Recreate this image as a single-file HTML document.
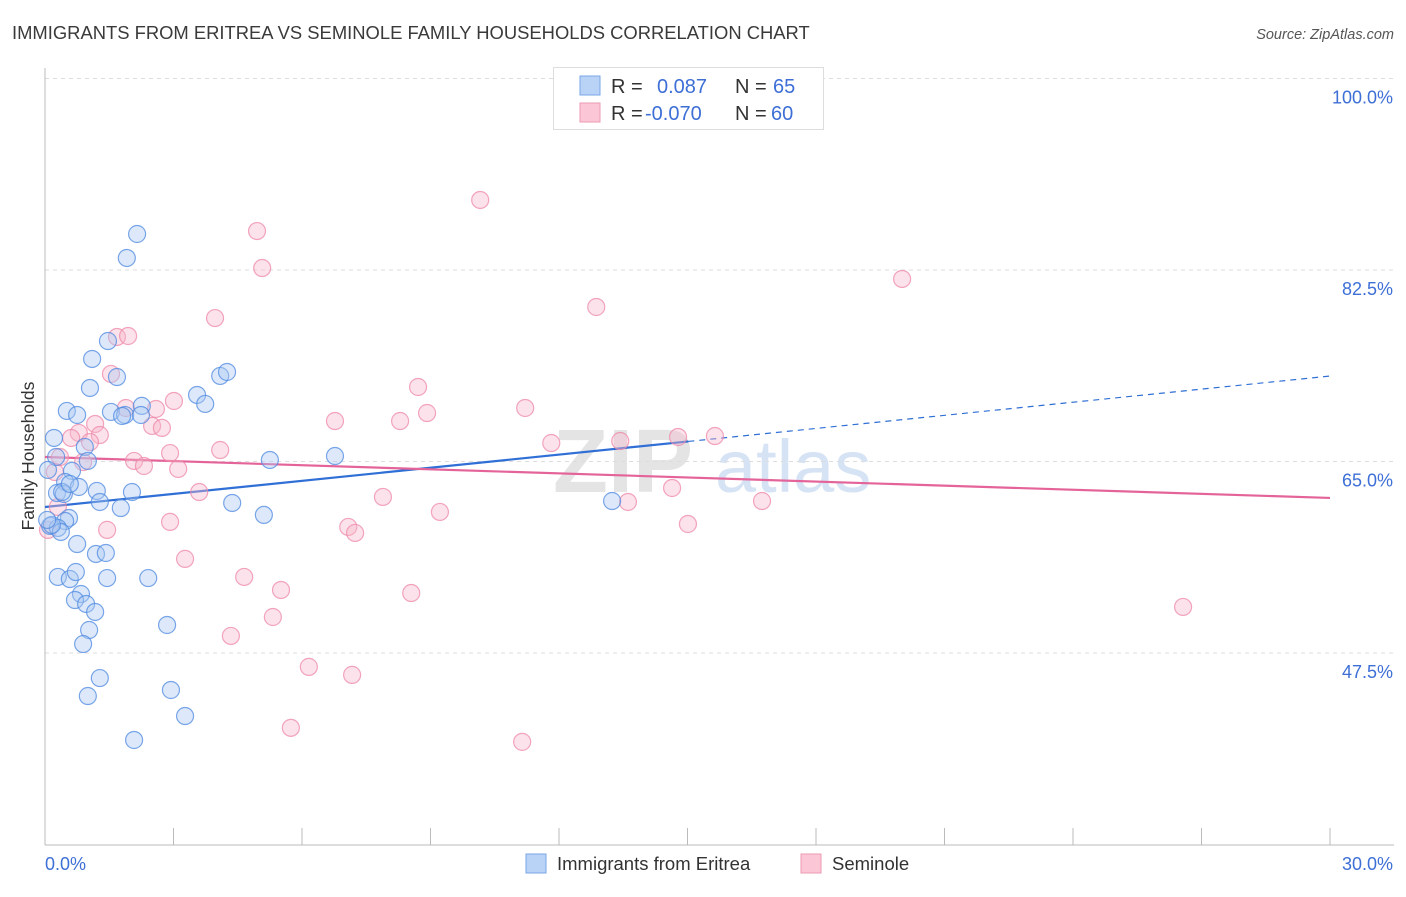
<!DOCTYPE html>
<html><head><meta charset="utf-8"><style>
body{margin:0;background:#fff;font-family:"Liberation Sans",sans-serif;}
svg text{font-family:"Liberation Sans",sans-serif;}
</style></head><body>
<svg id="chart" width="1406" height="892" xmlns="http://www.w3.org/2000/svg">
<text x="12" y="39" font-size="18.4" fill="#3a3a3a">IMMIGRANTS FROM ERITREA VS SEMINOLE FAMILY HOUSEHOLDS CORRELATION CHART</text>
<text x="1394" y="39" font-size="14.5" fill="#555" font-style="italic" text-anchor="end">Source: ZipAtlas.com</text>
<g>
<text x="553" y="492" font-size="90" font-family="Liberation Serif" fill="#e4e4e4" font-weight="bold">ZIP</text>
<text x="715" y="492" font-size="74" fill="#d6e3f5">atlas</text>
</g>
<g id="grid"></g>
<g id="axes"></g>
<g id="trends"></g>
<g id="points"></g>
<text transform="translate(34,456) rotate(-90)" font-size="17.5" fill="#333" text-anchor="middle">Family Households</text>
<g>
<rect x="553.5" y="67.5" width="270" height="62" fill="#fff" stroke="#ddd"/>
<rect x="580" y="76" width="20" height="19" fill="#b9d3f6" stroke="#7aa6e6"/>
<rect x="580" y="103" width="20" height="19" fill="#fbc7d6" stroke="#ee9ab3"/>
<text x="611" y="93" font-size="20" fill="#333">R =</text>
<text x="657" y="93" font-size="20" fill="#3d6fd6">0.087</text>
<text x="735" y="93" font-size="20" fill="#333">N =</text>
<text x="773" y="93" font-size="20" fill="#3d6fd6">65</text>
<text x="611" y="120" font-size="20" fill="#333">R =</text>
<text x="645" y="120" font-size="20" fill="#3d6fd6">-0.070</text>
<text x="735" y="120" font-size="20" fill="#333">N =</text>
<text x="771" y="120" font-size="20" fill="#3d6fd6">60</text>
</g>
<g>
<rect x="526" y="854" width="20" height="19" fill="#b9d3f6" stroke="#7aa6e6"/>
<text x="557" y="870" font-size="18.5" fill="#333">Immigrants from Eritrea</text>
<rect x="801" y="854" width="20" height="19" fill="#fbc7d6" stroke="#ee9ab3"/>
<text x="832" y="870" font-size="18.5" fill="#333">Seminole</text>
</g>
</svg>
<script>
const yTicks=[100,82.5,65,47.5];
const yTickLabels=["100.0%","82.5%","65.0%","47.5%"];
const xTicks=[3,6,9,12,15,18,21,24,27,30];
const xEndLabels=["0.0%","30.0%"];
const blueX=[2.15,1.91,1.47,1.10,1.68,1.05,4.09,4.25,3.55,3.74,0.51,0.75,1.54,1.87,1.80,2.26,2.24,0.21,0.93,0.26,1.00,5.25,6.77,0.63,0.47,0.28,0.44,0.79,1.21,1.28,2.03,1.77,4.37,5.11,0.56,0.47,0.12,0.30,0.37,0.75,1.19,1.42,0.30,0.58,0.72,1.45,2.41,0.84,0.70,0.96,1.17,2.85,1.03,0.89,1.28,1.00,2.94,3.27,2.08,13.24,0.16,0.05,0.40,0.58,0.07];
const blueY=[85.79,83.60,76.01,74.37,72.72,71.72,72.82,73.18,71.08,70.26,69.62,69.25,69.53,69.25,69.16,70.08,69.25,67.15,66.33,65.41,65.05,65.14,65.50,64.14,63.13,62.12,62.03,62.67,62.31,61.30,62.21,60.75,61.21,60.12,59.84,59.56,59.11,58.93,58.56,57.46,56.55,56.64,54.45,54.26,54.90,54.35,54.35,52.89,52.34,51.98,51.25,50.06,49.60,48.32,45.21,43.57,44.12,41.74,39.55,61.39,59.20,59.66,62.21,62.95,64.23];
const pinkX=[10.16,4.95,5.07,20.01,12.87,3.97,1.68,1.94,1.54,8.71,3.01,2.59,1.89,11.21,8.92,6.77,8.29,1.17,2.50,2.73,0.79,1.28,0.61,1.05,4.09,11.82,13.43,14.78,15.64,2.92,2.08,2.31,0.35,0.89,3.11,0.23,3.60,7.89,14.64,13.61,16.74,9.22,2.92,0.30,7.08,7.24,15.01,1.45,3.27,4.65,5.51,8.55,5.32,26.57,4.34,6.16,7.17,5.74,11.14,0.07];
const pinkY=[88.90,86.06,82.68,81.68,79.12,78.11,76.38,76.47,73.00,71.81,70.53,69.80,69.89,69.89,69.43,68.70,68.70,68.43,68.25,68.07,67.61,67.42,67.15,66.78,66.05,66.69,66.87,67.24,67.33,65.77,65.05,64.59,65.41,64.95,64.32,64.04,62.21,61.76,62.58,61.30,61.39,60.39,59.48,60.85,59.02,58.47,59.29,58.75,56.10,54.45,53.26,52.98,50.79,51.71,49.06,46.23,45.50,40.66,39.38,58.75];
const blueTrend=[60.84,72.81];
const blueSolidEnd=15.02;
const pinkTrend=[65.41,61.67];
const NS="http://www.w3.org/2000/svg";
const sx=v=>45+v/30*1285;
const sy=v=>78.5+(100-v)/17.5*191.5;
function mk(tag,attrs,parent){const e=document.createElementNS(NS,tag);for(const k in attrs)e.setAttribute(k,attrs[k]);parent.appendChild(e);return e;}
const grid=document.getElementById('grid'),axes=document.getElementById('axes'),trends=document.getElementById('trends'),pts=document.getElementById('points');
yTicks.forEach((t,i)=>{
 const l=mk('line',{x1:45,x2:1394,y1:sy(t),y2:sy(t),stroke:'#ddd','stroke-dasharray':'4,4'},grid);
 
 
 const tx=mk('text',{x:1393,y:sy(t)+25,'font-size':18,fill:'#3d6fd6','text-anchor':'end'},grid);
 tx.textContent=yTickLabels[i];
 
 
});
const ya=mk('line',{x1:45,x2:45,y1:68,y2:845,stroke:'#bbb'},axes);


const xa=mk('line',{x1:45,x2:1394,y1:845,y2:845,stroke:'#bbb'},axes);


xTicks.forEach(t=>{
 const l=mk('line',{x1:sx(t),x2:sx(t),y1:828,y2:845,stroke:'#bbb'},axes);
 
 
});
const xl0=mk('text',{x:45,y:870,'font-size':18,fill:'#3d6fd6'},axes);xl0.textContent=xEndLabels[0];


const xl1=mk('text',{x:1393,y:870,'font-size':18,fill:'#3d6fd6','text-anchor':'end'},axes);xl1.textContent=xEndLabels[1];


function dot(x,y,fill,stroke,name){
 const c=mk('circle',{cx:sx(x),cy:sy(y),r:8.5,fill:fill,'fill-opacity':0.4,stroke:stroke,'stroke-width':1.2,'stroke-opacity':0.75},pts);
 
 
}
pinkX.forEach((x,i)=>dot(x,pinkY[i],'#f7b6ca','#ee88a8','seminole-point'));
blueX.forEach((x,i)=>dot(x,blueY[i],'#a9c9f3','#4f8ae0','eritrea-point'));
const by=x=>blueTrend[0]+(blueTrend[1]-blueTrend[0])*x/30;
const b1=mk('line',{x1:sx(0),y1:sy(by(0)),x2:sx(blueSolidEnd),y2:sy(by(blueSolidEnd)),stroke:'#2f6fd6','stroke-width':2.2},trends);


const b2=mk('line',{x1:sx(blueSolidEnd),y1:sy(by(blueSolidEnd)),x2:sx(30),y2:sy(by(30)),stroke:'#2f6fd6','stroke-width':1.2,'stroke-dasharray':'6,5'},trends);


const p1=mk('line',{x1:sx(0),y1:sy(pinkTrend[0]),x2:sx(30),y2:sy(pinkTrend[1]),stroke:'#e4649a','stroke-width':2.2},trends);


</script>
</body></html>
